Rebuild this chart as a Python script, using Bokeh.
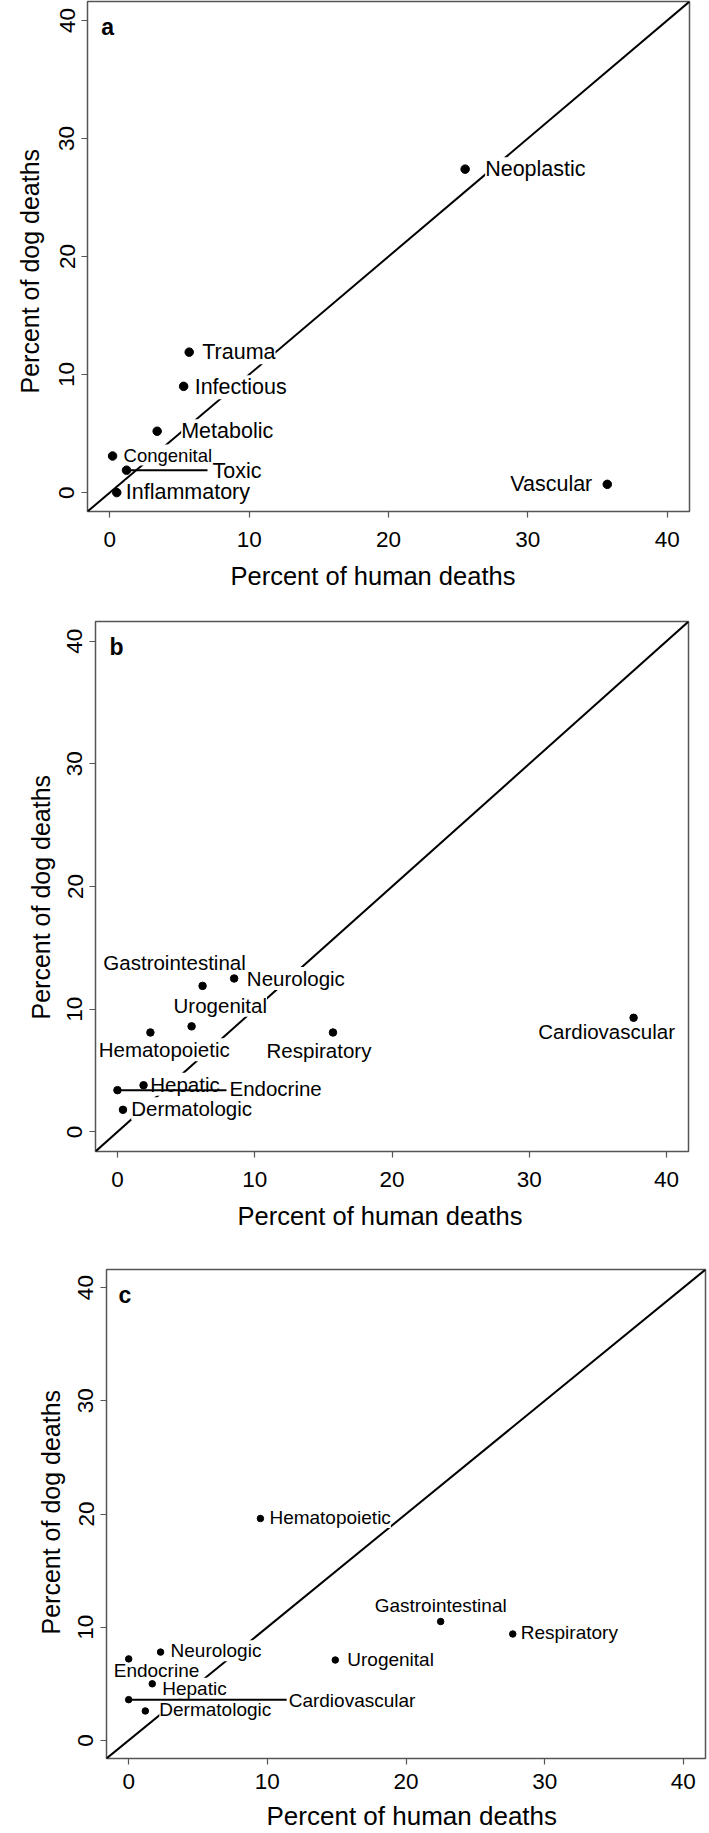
from bokeh.plotting import figure
from bokeh.models import Slope, Label, Title, FixedTicker, Range1d, ColumnDataSource
from bokeh.embed import file_html
from bokeh.resources import INLINE
from bokeh.core.properties import value

# ---------------- data ----------------
# Panel a: cause-of-death categories
a_labels = ["Neoplastic", "Trauma", "Infectious", "Metabolic", "Congenital",
            "Toxic", "Inflammatory", "Vascular"]
a_human = [25.5, 5.7, 5.3, 3.4, 0.2, 1.2, 0.5, 35.7]
a_dog = [27.4, 11.9, 9.0, 5.2, 3.1, 1.9, 0.0, 0.7]

# Panel b: organ systems
b_labels = ["Gastrointestinal", "Neurologic", "Urogenital", "Hematopoietic",
            "Respiratory", "Cardiovascular", "Hepatic", "Endocrine", "Dermatologic"]
b_human = [6.2, 8.5, 5.4, 2.4, 15.7, 37.6, 1.9, 0.0, 0.4]
b_dog = [11.9, 12.5, 8.6, 8.1, 8.1, 9.3, 3.8, 3.4, 1.8]

# Panel c: organ systems
c_labels = ["Hematopoietic", "Gastrointestinal", "Respiratory", "Urogenital",
            "Neurologic", "Endocrine", "Hepatic", "Cardiovascular", "Dermatologic"]
c_human = [9.5, 22.5, 27.7, 14.9, 2.3, 0.0, 1.7, 0.0, 1.2]
c_dog = [19.6, 10.5, 9.4, 7.1, 7.8, 7.2, 5.0, 3.6, 2.6]

ticks = [0, 10, 20, 30, 40]
x_title = "Percent of human deaths"
y_title = "Percent of dog deaths"

# ---------------- styling / placement ----------------
FONT = "Liberation Sans"
RANGE = (-1.6, 41.6)

# label placement: (dx px, dy px (down), align, font px, leader)
place_a = {
    "Neoplastic": (20, 0, "left", 21.5, False),
    "Trauma": (13, 0, "left", 21.5, False),
    "Infectious": (11, 1, "left", 21.5, False),
    "Metabolic": (24, 0, "left", 21.5, False),
    "Congenital": (11, -1, "left", 18.5, False),
    "Toxic": (86, 0.5, "left", 21.5, True),
    "Inflammatory": (9, -0.5, "left", 21.5, False),
    "Vascular": (-15, 0, "right", 21.5, False),
}
place_b = {
    "Gastrointestinal": (-28, -23, "center", 20.5, False),
    "Neurologic": (12.7, 0, "left", 20.5, False),
    "Urogenital": (28.7, -21, "center", 20.5, False),
    "Hematopoietic": (13.8, 17.3, "center", 20.5, False),
    "Respiratory": (-14, 18, "center", 20.5, False),
    "Cardiovascular": (-27, 13.4, "center", 20.5, False),
    "Hepatic": (6.7, -1, "left", 20.5, False),
    "Endocrine": (112, -1.5, "left", 20.5, True),
    "Dermatologic": (8.3, -1, "left", 20.5, False),
}
place_c = {
    "Hematopoietic": (9, -1, "left", 19, False),
    "Gastrointestinal": (0, -16.4, "center", 19, False),
    "Respiratory": (8, -1, "left", 19, False),
    "Urogenital": (12, -1, "left", 19, False),
    "Neurologic": (10, -1.3, "left", 19, False),
    "Endocrine": (27.8, 12, "center", 19, False),
    "Hepatic": (10, 4.4, "left", 19, False),
    "Cardiovascular": (160, 0.8, "left", 19, True),
    "Dermatologic": (14, -1, "left", 19, False),
}

# geometry of each panel (pixels)
panels = [
    dict(letter="a", labels=a_labels, human=a_human, dog=a_dog, place=place_a,
         left=83, fw=602, right=24, top=1, fh=510, bottom=94, dot=8.5, gap=5,
         xstand=14, xt=(143, 20, 25.5), yt=(118, 26, 25), lt=(13.7, 485)),
    dict(letter="b", labels=b_labels, human=b_human, dog=b_dog, place=place_b,
         left=95, fw=593, right=21, top=16, fh=530, bottom=94, dot=7.5, gap=3,
         xstand=14, xt=(142, 21, 25.5), yt=(132, 19, 25), lt=(14, 505)),
    dict(letter="c", labels=c_labels, human=c_human, dog=c_dog, place=place_c,
         left=106, fw=599, right=4, top=24, fh=489, bottom=74, dot=6.5, gap=2,
         xstand=9, xt=(160, 15, 26), yt=(124, 21, 25), lt=(12, 464)),
]


def make_panel(cfg):
    p = figure(frame_width=cfg["fw"], frame_height=cfg["fh"],
               min_border_left=cfg["left"], min_border_right=cfg["right"],
               min_border_top=cfg["top"], min_border_bottom=cfg["bottom"],
               x_range=Range1d(*RANGE), y_range=Range1d(*RANGE),
               output_backend="svg", toolbar_location=None,
               background_fill_color="white", border_fill_color="white")
    p.xgrid.visible = False
    p.ygrid.visible = False
    p.outline_line_color = "#555555"
    p.outline_line_width = 1.5
    for ax in (p.xaxis[0], p.yaxis[0]):
        ax.ticker = FixedTicker(ticks=ticks, minor_ticks=[])
        ax.axis_line_color = None
        ax.major_tick_line_color = "#555555"
        ax.major_tick_line_width = 1.2
        ax.major_tick_out = 6
        ax.major_tick_in = 0
        ax.minor_tick_line_color = None
        ax.major_label_text_font = FONT
        ax.major_label_text_font_size = "22.5px"
        ax.major_label_text_color = "black"
    p.xaxis.major_label_standoff = int(cfg["xstand"])
    p.yaxis.major_label_standoff = 7
    p.yaxis.major_label_orientation = "vertical"

    # identity line
    sl = Slope(gradient=1, y_intercept=0, line_color="black", line_width=2)
    sl.level = "underlay"
    p.add_layout(sl)

    ppu = cfg["fw"] / (RANGE[1] - RANGE[0])
    groups = {}
    seg_x0, seg_y0, seg_x1 = [], [], []
    for lab, hx, dy_ in zip(cfg["labels"], cfg["human"], cfg["dog"]):
        dx, dyo, align, fs, leader = cfg["place"][lab]
        key = (align, fs)
        g = groups.setdefault(key, dict(x=[], y=[], text=[], dx=[], dy=[]))
        g["x"].append(hx)
        g["y"].append(dy_)
        g["text"].append(lab)
        g["dx"].append(dx)
        g["dy"].append(dyo)
        if leader:
            seg_x0.append(hx)
            seg_y0.append(dy_)
            seg_x1.append(hx + (dx - cfg["gap"]) / ppu)

    for (align, fs), g in groups.items():
        src = ColumnDataSource(g)
        p.text(x="x", y="y", text="text", x_offset="dx", y_offset="dy", source=src,
               text_align=align, text_baseline="middle",
               text_font=value(FONT), text_font_size=f"{fs}px", text_color="black",
               background_fill_color="white", padding=0)

    if seg_x0:
        p.segment(x0=seg_x0, y0=seg_y0, x1=seg_x1, y1=seg_y0,
                  line_color="black", line_width=2)

    p.scatter(x=cfg["human"], y=cfg["dog"], size=cfg["dot"], marker="circle",
              fill_color="black", line_color="black")

    xo, xs, xf = cfg["xt"]
    p.add_layout(Title(text=x_title, align="left", offset=xo, standoff=int(xs),
                       text_font=FONT, text_font_size=f"{xf}px",
                       text_font_style="normal", text_color="black"), "below")
    yo, ys, yf = cfg["yt"]
    p.add_layout(Title(text=y_title, align="left", offset=yo, standoff=int(ys),
                       text_font=FONT, text_font_size=f"{yf}px",
                       text_font_style="normal", text_color="black"), "left")
    p.add_layout(Label(x=cfg["lt"][0], y=cfg["lt"][1], x_units="screen", y_units="screen",
                       text=cfg["letter"], text_align="left", text_baseline="middle",
                       text_font=FONT, text_font_size="23px", text_font_style="bold",
                       text_color="black"))
    return p


figs = [make_panel(c) for c in panels]
open("out.html", "w").write(file_html(figs, INLINE))
